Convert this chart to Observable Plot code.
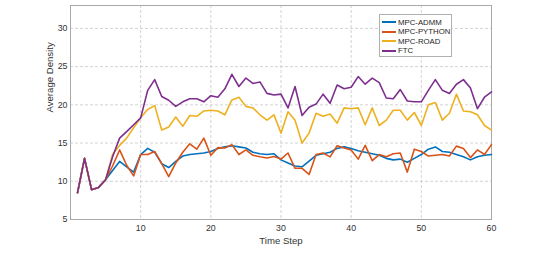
<!DOCTYPE html>
<html>
<head>
<meta charset="utf-8">
<script src="https://cdn.jsdelivr.net/npm/d3@7"></script>
<script src="https://cdn.jsdelivr.net/npm/@observablehq/plot@0.6"></script>
<style>
  html, body { margin: 0; padding: 0; background: #fff; }
  #wrap { position: relative; width: 544px; height: 263px; font-family: "Liberation Sans", Arial, sans-serif; }
  #legend { position: absolute; left: 379px; top: 14px; width: 73px; height: 43px; border: 1px solid #b0b0b0; background: #fff; box-sizing: border-box; font-size: 7.8px; color: #262626; }
  #legend .row { position: absolute; left: 2px; height: 10px; display: flex; align-items: center; white-space: nowrap; }
  #legend .sw { width: 14px; height: 2px; margin-right: 2px; }
</style>
</head>
<body>
<div id="wrap"><div id="legend"></div></div>
<script>
const steps = d3.range(1, 61);
const seriesNames = ["MPC-ADMM", "MPC-PYTHON", "MPC-ROAD", "FTC"];
const colors = ["#0072BD", "#D95319", "#EDB120", "#7E2F8E"];
const xTicks = [10, 20, 30, 40, 50, 60];
const yTicks = [5, 10, 15, 20, 25, 30];
const xLabel = "Time Step";
const yLabel = "Average Density";

const admm = [8.5, 13.0, 8.9, 9.2, 10.2, 11.4, 12.6, 11.9, 11.2, 13.5,
  14.3, 13.8, 12.3, 11.8, 12.6, 13.3, 13.5, 13.6, 13.7, 13.9,
  14.3, 14.5, 14.65, 14.5, 14.35, 13.8, 13.6, 13.5, 13.6, 12.8,
  12.4, 12.0, 11.9, 12.65, 13.4, 13.6, 13.8, 14.3, 14.5, 14.3,
  14.0, 13.8, 13.6, 13.4, 13.0, 12.8, 12.9, 12.5, 13.0, 13.5,
  14.2, 14.5, 13.9, 13.8, 13.5, 13.2, 12.8, 13.2, 13.4, 13.5];
const python = [8.5, 13.0, 8.9, 9.2, 10.2, 12.0, 14.1, 12.1, 10.7, 13.5,
  13.5, 13.9, 12.3, 10.6, 12.4, 13.8, 14.9, 14.2, 15.65, 13.4,
  14.4, 14.35, 14.8, 13.5, 14.1, 13.4, 13.2, 13.05, 13.25, 12.9,
  13.7, 11.7, 11.7, 10.9, 13.5, 13.7, 13.2, 14.65, 14.35, 14.1,
  12.9, 14.7, 12.7, 13.5, 13.2, 13.6, 13.7, 11.2, 14.2, 13.9,
  13.3, 13.4, 13.5, 13.3, 14.6, 14.3, 13.1, 14.1, 13.5, 14.8];
const road = [8.5, 13.0, 8.9, 9.2, 10.2, 13.5, 14.7, 15.65, 17.0, 18.3,
  19.4, 19.9, 16.7, 17.1, 18.4, 17.2, 18.6, 18.5, 19.2, 19.3,
  19.2, 18.7, 20.65, 21.0, 19.8, 19.6, 18.7, 18.0, 18.7, 16.3,
  19.1, 18.0, 15.0, 16.3, 18.9, 18.5, 18.8, 17.6, 19.6, 19.5,
  19.6, 17.4, 19.6, 17.3, 18.0, 19.3, 19.3, 18.0, 19.0, 17.3,
  20.0, 20.3, 18.0, 18.9, 21.4, 19.2, 19.1, 18.7, 17.3, 16.7];
const ftc = [8.5, 13.0, 8.9, 9.2, 10.2, 13.2, 15.65, 16.5, 17.4, 18.3,
  21.9, 23.3, 21.1, 20.6, 19.8, 20.4, 20.8, 20.8, 20.4, 21.2,
  21.0, 22.1, 24.0, 22.4, 23.5, 22.8, 23.0, 21.5, 21.3, 21.4,
  19.6, 22.4, 18.6, 19.7, 20.1, 21.4, 20.2, 22.6, 22.1, 22.3,
  23.7, 22.7, 23.5, 22.9, 20.9, 20.8, 22.0, 20.5, 20.4, 20.4,
  21.9, 23.3, 21.9, 21.5, 22.7, 23.3, 22.2, 19.5, 21.0, 21.7];

const allSeries = [admm, python, road, ftc];
const data = [];
allSeries.forEach((vals, si) => vals.forEach((v, i) => data.push({step: steps[i], value: v, series: seriesNames[si]})));

const font = "Liberation Sans, Arial, sans-serif";
const chart = Plot.plot({
  width: 544,
  height: 263,
  marginLeft: 70,
  marginRight: 53,
  marginTop: 5,
  marginBottom: 44,
  style: {fontFamily: font, fontSize: "8.6px", color: "#333", background: "transparent"},
  x: {domain: [0, 60], label: null},
  y: {domain: [5, 33], label: null},
  color: {domain: seriesNames, range: colors},
  marks: [
    Plot.gridX(xTicks.filter(d => d < 60), {stroke: "#c8c8c8", strokeOpacity: 1, strokeDasharray: "3,2", strokeWidth: 0.8}),
    Plot.gridY(yTicks.filter(d => d > 5), {stroke: "#c8c8c8", strokeOpacity: 1, strokeDasharray: "3,2", strokeWidth: 0.8}),
    Plot.frame({stroke: "#a8a8a8", strokeWidth: 1}),
    Plot.axisX(xTicks, {tickSize: 0, tickPadding: 5, label: null, fontSize: 8.8}),
    Plot.axisY(yTicks, {tickSize: 0, tickPadding: 3, label: null, fontSize: 8.8}),
    Plot.text([xLabel], {frameAnchor: "bottom", dy: 21, text: d => d, fontSize: 9.6, fill: "#333", lineAnchor: "middle"}),
    Plot.text([yLabel], {frameAnchor: "left", dx: -21, text: d => d, fontSize: 9.6, fill: "#333", rotate: -90, lineAnchor: "middle"}),
    Plot.line(data, {x: "step", y: "value", z: "series", stroke: "series", strokeWidth: 1.6, strokeLinejoin: "round"})
  ]
});
document.getElementById("wrap").prepend(chart);

const legend = document.getElementById("legend");
seriesNames.forEach((name, i) => {
  const row = document.createElement("div");
  row.className = "row";
  row.style.top = (2 + i * 9.6) + "px";
  const sw = document.createElement("span");
  sw.className = "sw";
  sw.style.background = colors[i];
  const t = document.createElement("span");
  t.textContent = name;
  row.append(sw, t);
  legend.append(row);
});
</script>
</body>
</html>
